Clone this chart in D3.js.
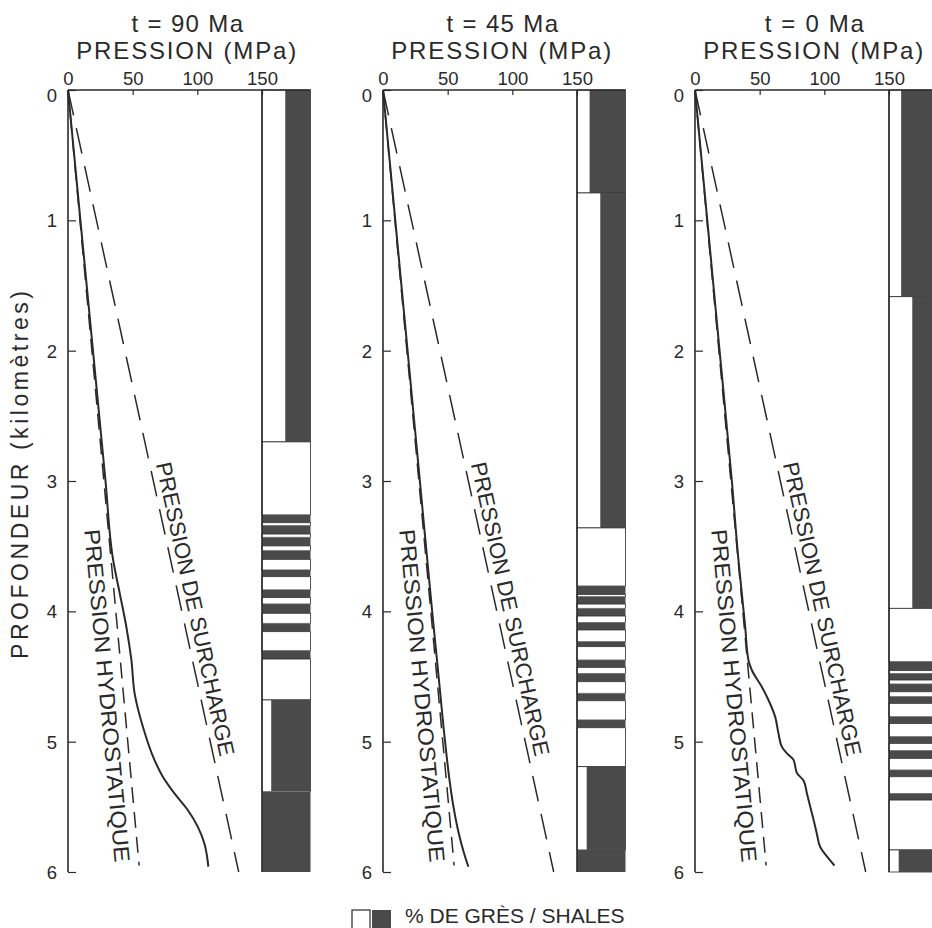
<!DOCTYPE html>
<html><head><meta charset="utf-8">
<script src="https://cdn.jsdelivr.net/npm/d3@7/dist/d3.min.js"></script>
<style>
body{margin:0;background:#fff}
svg{display:block}
text{font-family:"Liberation Sans",Arial,Helvetica,sans-serif;fill:#2a2a2a}
</style>
</head><body>
<svg id="chart" width="932" height="928"></svg>
<script>
// ---------- DATA ----------
const panelTitles = ["t = 90 Ma", "t = 45 Ma", "t = 0 Ma"];
const pressureTicks = [0, 50, 100, 150];
const depthTicks = [0, 1, 2, 3, 4, 5, 6];
const axisTitleX = "PRESSION (MPa)";
const axisTitleY = "PROFONDEUR (kilomètres)";
const labelOverburden = "PRESSION DE SURCHARGE";
const labelHydro = "PRESSION HYDROSTATIQUE";
const legendText = "% DE GRÈS / SHALES";

// [depth km, pressure MPa]
const overburden = [[0, 0], [6, 132]];
const hydrostatic = [[0, 0], [5.95, 55]];

const pore90 = [[0,0],[1,9.6],[2,19.3],[3,29],[3.606,34.9],[3.862,40],[4.118,45.1],[4.373,49],[4.629,51.5],[4.885,57.9],[5.141,66.9],[5.269,73.3],[5.397,82.3],[5.524,92.6],[5.652,100.3],[5.78,105.4],[5.908,107.9],[5.959,108.5]];
const pore45 = [[0,0],[1,9.5],[2,19],[3,28.5],[4,38],[4.5,43],[5,48],[5.3,51.5],[5.5,54.5],[5.7,58.5],[5.85,62.5],[5.96,66]];
const pore0 = [[0,0],[1,9.5],[2,19],[3,28.5],[3.606,33.6],[3.862,36.2],[4.118,38.8],[4.373,41.3],[4.45,43.9],[4.58,51.7],[4.68,56.8],[4.81,62],[4.94,64.6],[5.04,67.2],[5.09,71.1],[5.14,76.2],[5.19,77.5],[5.24,78.8],[5.3,84],[5.4,86.6],[5.5,89.1],[5.6,91.7],[5.71,94.3],[5.81,96.9],[5.88,102],[5.95,107.8]];

// lithology: [top km, bottom km, % sandstone (grès)]
const litho90 = [[0,2.70,48],[2.70,3.26,100],[3.26,3.32,0],[3.32,3.343,100],[3.343,3.407,0],[3.407,3.432,100],[3.432,3.498,0],[3.498,3.535,100],[3.535,3.601,0],[3.601,3.683,100],[3.683,3.734,0],[3.734,3.836,100],[3.836,3.895,0],[3.895,3.944,100],[3.944,4.015,0],[4.015,4.092,100],[4.092,4.156,0],[4.156,4.302,100],[4.302,4.366,0],[4.366,4.68,100],[4.68,5.384,19],[5.384,6,0]];
const litho45 = [[0,0.79,26],[0.79,3.36,48],[3.36,3.806,100],[3.806,3.87,0],[3.87,3.888,100],[3.888,3.944,0],[3.944,3.977,100],[3.977,4.036,0],[4.036,4.085,100],[4.085,4.143,0],[4.143,4.233,100],[4.233,4.271,0],[4.271,4.374,100],[4.374,4.43,0],[4.43,4.476,100],[4.476,4.54,0],[4.54,4.629,100],[4.629,4.686,0],[4.686,4.834,100],[4.834,4.893,0],[4.893,5.192,100],[5.192,5.831,20],[5.831,6,0]];
const litho0 = [[0,1.586,25],[1.586,3.977,48],[3.977,4.386,100],[4.386,4.455,0],[4.455,4.476,100],[4.476,4.527,0],[4.527,4.558,100],[4.558,4.617,0],[4.617,4.655,100],[4.655,4.706,0],[4.706,4.809,100],[4.809,4.860,0],[4.860,4.962,100],[4.962,5.013,0],[5.013,5.069,100],[5.069,5.128,0],[5.128,5.218,100],[5.218,5.269,0],[5.269,5.397,100],[5.397,5.448,0],[5.448,5.831,100],[5.831,6,20]];

const porePressures = [pore90, pore45, pore0];
const lithologies = [litho90, litho45, litho0];

// ---------- LAYOUT ----------
const svg = d3.select("#chart");
const panelLeft = [68, 383, 695];
const pxPer150 = 194;
const colStart = 150, colEnd = 187.5;
const dark = "#4a4a4a";
const ink = "#2a2a2a";

const y = d3.scaleLinear().domain([0, 6]).range([90, 872]);

panelTitles.forEach((title, i) => {
  const x = d3.scaleLinear().domain([0, 150]).range([panelLeft[i], panelLeft[i] + pxPer150]);
  const g = svg.append("g");
  const cx = (x(0) + x(colEnd)) / 2;

  // titles
  g.append("text").attr("x", cx - 2).attr("y", 32).attr("text-anchor", "middle")
    .style("font-size", "24px").attr("textLength", title.length * 12.4).attr("lengthAdjust", "spacing").text(title);
  g.append("text").attr("x", cx - 3).attr("y", 59).attr("text-anchor", "middle")
    .style("font-size", "24px").attr("textLength", 220).attr("lengthAdjust", "spacing").text(axisTitleX);

  // lithology column
  const col = g.append("g");
  lithologies[i].forEach(([top, bot, sand]) => {
    const x0 = x(colStart), x1 = x(colEnd);
    const xs = x(colStart + (colEnd - colStart) * sand / 100);
    col.append("rect").attr("x", x0).attr("y", y(top)).attr("width", x1 - x0)
      .attr("height", y(bot) - y(top)).attr("fill", "#fff")
      .attr("stroke", sand > 0 ? ink : "none").attr("stroke-width", sand > 0 ? 0.8 : 0);
    if (sand < 100) {
      col.append("rect").attr("x", xs).attr("y", y(top)).attr("width", x1 - xs)
        .attr("height", y(bot) - y(top)).attr("fill", dark);
    }
  });
  col.append("line").attr("x1", x(colStart)).attr("x2", x(colStart))
    .attr("y1", y(0)).attr("y2", y(6)).attr("stroke", ink).attr("stroke-width", 1.6);

  // top axis
  const ax = d3.axisTop(x).tickValues(pressureTicks).tickSizeInner(-5).tickSizeOuter(0).tickPadding(5)
    .tickFormat(d3.format("d"));
  const axg = g.append("g").attr("transform", `translate(0,${y(0)})`).call(ax);
  axg.select(".domain").remove();
  axg.selectAll("line").attr("stroke", ink).attr("stroke-width", 1.2);
  axg.selectAll("text").style("font-size", "18.5px").attr("fill", ink).style("font-family", "Liberation Sans, Arial, sans-serif");
  g.append("line").attr("x1", x(0)).attr("x2", x(colEnd)).attr("y1", y(0)).attr("y2", y(0))
    .attr("stroke", ink).attr("stroke-width", 1.6);

  // left axis
  const ay = d3.axisLeft(y).tickValues(depthTicks).tickSizeInner(-8).tickSizeOuter(0).tickPadding(11)
    .tickFormat(d3.format("d"));
  const ayg = g.append("g").attr("transform", `translate(${x(0)},0)`).call(ay);
  ayg.select(".domain").remove();
  ayg.selectAll("line").attr("stroke", ink).attr("stroke-width", 1.2);
  ayg.selectAll("text").style("font-size", "18.5px").attr("fill", ink).style("font-family", "Liberation Sans, Arial, sans-serif")
    .attr("dy", d => d === 0 ? "0.62em" : "0.35em");
  g.append("line").attr("x1", x(0)).attr("x2", x(0)).attr("y1", y(0)).attr("y2", y(6))
    .attr("stroke", ink).attr("stroke-width", 1.6);

  // lines
  const line = d3.line().x(d => x(d[1])).y(d => y(d[0]));
  g.append("path").datum(overburden).attr("d", line).attr("fill", "none")
    .attr("stroke", ink).attr("stroke-width", 1.5).attr("stroke-dasharray", "26,13");
  g.append("path").datum(hydrostatic).attr("d", line).attr("fill", "none")
    .attr("stroke", ink).attr("stroke-width", 1.5).attr("stroke-dasharray", "16,9");
  const curve = d3.line().x(d => x(d[1])).y(d => y(d[0])).curve(d3.curveMonotoneY);
  g.append("path").datum(porePressures[i]).attr("d", curve).attr("fill", "none")
    .attr("stroke", ink).attr("stroke-width", 2);

  // rotated labels
  function label(pts, depthStart, dy, text, len) {
    const [d0, p0] = pts[0], [d1, p1] = pts[pts.length - 1];
    const ang = Math.atan2(y(d1) - y(d0), x(p1) - x(p0)) * 180 / Math.PI;
    const p = p0 + (p1 - p0) * (depthStart - d0) / (d1 - d0);
    g.append("text").attr("transform", `translate(${x(p)},${y(depthStart)}) rotate(${ang})`)
      .attr("dy", dy).attr("textLength", len).attr("lengthAdjust", "spacingAndGlyphs")
      .style("font-size", "22px").text(text);
  }
  label(overburden, 2.88, -6, labelOverburden, 300);
  label(hydrostatic, 3.36, 24, labelHydro, 334);
});

// y axis title
svg.append("text").attr("transform", "translate(28,475) rotate(-90)").attr("text-anchor", "middle")
  .style("font-size", "23px").attr("textLength", 368).attr("lengthAdjust", "spacing").text(axisTitleY);

// legend
svg.append("rect").attr("x", 352).attr("y", 910).attr("width", 18).attr("height", 22)
  .attr("fill", "#fff").attr("stroke", ink).attr("stroke-width", 1.2);
svg.append("rect").attr("x", 372).attr("y", 910).attr("width", 19).attr("height", 22).attr("fill", dark);
svg.append("text").attr("x", 405).attr("y", 923).style("font-size", "21px").text(legendText);
</script>
</body></html>
